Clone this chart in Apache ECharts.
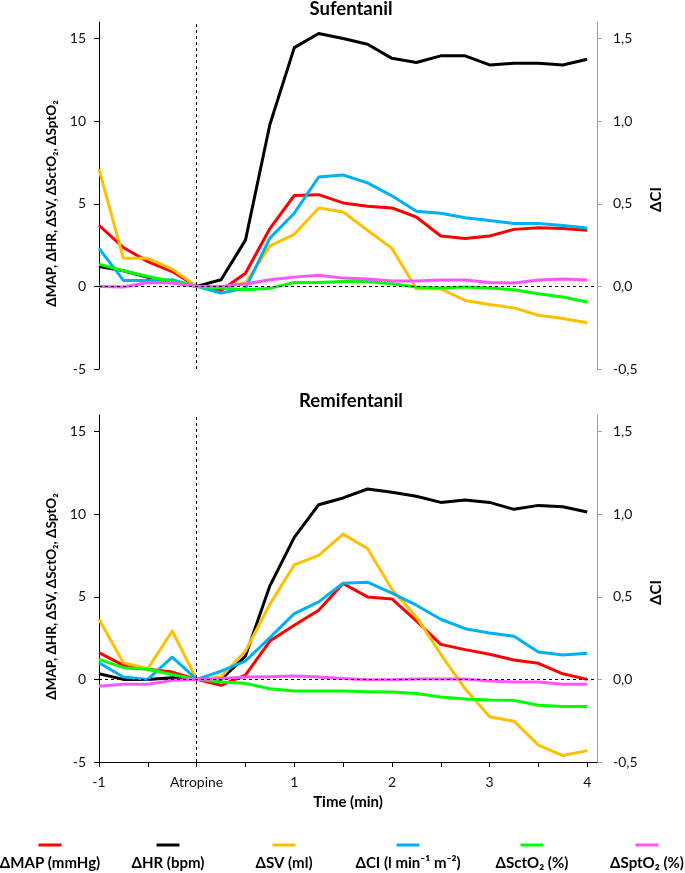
<!DOCTYPE html>
<html><head><meta charset="utf-8">
<script src="https://cdn.jsdelivr.net/npm/echarts@6/dist/echarts.min.js"></script>
<style>html,body{margin:0;padding:0;background:#fff}#c{width:685px;height:873px}</style>
</head><body><div id="c"></div>
<script>
const times = [-1,-0.75,-0.5,-0.25,0,0.25,0.5,0.75,1,1.25,1.5,1.75,2,2.25,2.5,2.75,3,3.25,3.5,3.75,4];
const xTickValues = [-1,-0.5,0,0.5,1,1.5,2,2.5,3,3.5,4];
const xLabelValues = [-1,0,1,2,3,4];
const yTickValues = [-5,0,5,10,15];
const ciTickValues = [-0.5,0,0.5,1,1.5];
const panelTitles = ['Sufentanil','Remifentanil'];
const seriesNames = ['ΔMAP (mmHg)','ΔHR (bpm)','ΔSV (ml)','ΔCI (l min⁻¹ m⁻²)','ΔSctO₂ (%)','ΔSptO₂ (%)'];
const seriesColors = ['#FF0000','#000000','#FFC000','#00B0F0','#00FF00','#FF55FF'];

const sufMAP = [3.7,2.35,1.5,0.9,0,-0.25,0.8,3.5,5.5,5.55,5.05,4.85,4.75,4.2,3.05,2.9,3.05,3.45,3.55,3.5,3.4];
const sufHR  = [1.2,0.95,0.55,0.25,0,0.4,2.8,9.8,14.45,15.3,15.0,14.65,13.8,13.55,13.95,13.95,13.4,13.5,13.5,13.4,13.75];
const sufSV  = [7.1,1.7,1.7,1.05,0,-0.05,0.2,2.45,3.15,4.75,4.5,3.4,2.3,-0.15,-0.15,-0.85,-1.1,-1.3,-1.75,-1.95,-2.2];
const sufCI  = [0.23,0.036,0.036,0.04,0,-0.04,-0.012,0.292,0.443,0.662,0.674,0.626,0.548,0.455,0.443,0.415,0.399,0.38,0.38,0.368,0.354];
const sufSct = [1.35,0.95,0.6,0.3,0,-0.1,-0.2,-0.12,0.24,0.24,0.3,0.3,0.16,-0.04,-0.1,-0.04,-0.1,-0.2,-0.44,-0.64,-0.95];
const sufSpt = [0,-0.04,0.24,0.2,0,0,0.14,0.4,0.56,0.68,0.5,0.44,0.32,0.32,0.38,0.38,0.24,0.2,0.38,0.44,0.38];

const remMAP = [1.62,0.85,0.61,0.44,0,-0.36,0.26,2.32,3.27,4.18,5.8,4.99,4.87,3.54,2.12,1.8,1.52,1.17,0.97,0.34,0];
const remHR  = [0.34,0,0,0.1,0,0,1.41,5.66,8.59,10.57,10.98,11.52,11.32,11.08,10.71,10.86,10.71,10.29,10.53,10.45,10.13];
const remSV  = [3.64,1.01,0.65,2.93,0,0.14,1.72,4.55,6.93,7.5,8.79,7.92,5.46,3.78,1.52,-0.57,-2.26,-2.53,-3.98,-4.61,-4.31];
const remCI  = [0.101,0.014,0,0.135,0,0.05,0.111,0.253,0.398,0.469,0.582,0.588,0.522,0.449,0.364,0.307,0.281,0.261,0.166,0.148,0.158];
const remSct = [1.21,0.71,0.61,0.3,0,-0.16,-0.24,-0.57,-0.71,-0.71,-0.71,-0.75,-0.77,-0.85,-1.07,-1.19,-1.25,-1.27,-1.56,-1.64,-1.64];
const remSpt = [-0.42,-0.3,-0.3,-0.06,0,0.06,0.14,0.16,0.2,0.14,0.06,-0.02,-0.02,0.02,0.02,0.02,-0.1,-0.16,-0.16,-0.3,-0.3];

const panels = [
  [sufMAP, sufHR, sufSV, sufCI, sufSct, sufSpt],
  [remMAP, remHR, remSV, remCI, remSct, remSpt]
];

const FONT = 'Lato, "Open Sans", sans-serif';
const gridTops = [22, 415];
const gridH = 347;

const grids = [], xAxes = [], yAxes = [], series = [];
panels.forEach((vals, p) => {
  grids.push({left: 99, right: 88, top: gridTops[p], height: gridH});
  xAxes.push({
    type: 'value', gridIndex: p, min: -1, max: 4.1, show: p === 1,
    splitLine: {show: false},
    axisLine: {onZero: false, lineStyle: {color: '#000', width: 1}},
    axisTick: {customValues: xTickValues, length: 5, lineStyle: {color: '#000'}},
    axisLabel: {customValues: xLabelValues, margin: 13, color: '#111', fontSize: 14, fontFamily: FONT,
      formatter: v => v === 0 ? 'Atropine' : String(v)},
    name: 'Time (min)', nameLocation: 'middle', nameGap: 33,
    nameTextStyle: {fontWeight: 'bold', fontSize: 15, color: '#000', fontFamily: FONT}
  });
  yAxes.push({
    type: 'value', gridIndex: p, min: -5, max: 16, interval: 5, position: 'left',
    splitLine: {show: false},
    axisLine: {show: true, onZero: false, lineStyle: {color: '#000', width: 1}},
    axisTick: {show: true, customValues: yTickValues, length: 5, lineStyle: {color: '#000'}},
    axisLabel: {customValues: yTickValues, margin: 13, color: '#111', fontSize: 14, fontFamily: FONT},
    name: 'ΔMAP, ΔHR, ΔSV, ΔSctO₂, ΔSptO₂', nameLocation: 'middle', nameRotate: 90, nameGap: 38,
    nameTextStyle: {fontWeight: 'bold', fontSize: 13.5, color: '#000', fontFamily: FONT, padding: [0, 16, 0, 0]}
  });
  yAxes.push({
    type: 'value', gridIndex: p, min: -0.5, max: 1.6, interval: 0.5, position: 'right',
    splitLine: {show: false},
    axisLine: {show: true, onZero: false, lineStyle: {color: '#A0A0A0', width: 1}},
    axisTick: {show: true, customValues: ciTickValues, length: 5, lineStyle: {color: '#A0A0A0'}},
    axisLabel: {customValues: ciTickValues, margin: 16, color: '#111', fontSize: 14, fontFamily: FONT,
      formatter: v => v.toFixed(1).replace('.', ',')},
    name: 'ΔCI', nameLocation: 'middle', nameRotate: 90, nameGap: 48,
    nameTextStyle: {fontWeight: 'bold', fontSize: 15, color: '#000', fontFamily: FONT, padding: [0, 8, 0, 0]}
  });
  vals.forEach((arr, i) => {
    const isCI = i === 3;
    const s = {
      name: seriesNames[i], type: 'line', xAxisIndex: p, yAxisIndex: p * 2 + (isCI ? 1 : 0),
      data: times.map((t, k) => [t, arr[k]]),
      showSymbol: false, symbol: 'none', silent: true, animation: false,
      lineStyle: {color: seriesColors[i], width: 3, join: 'round'},
      itemStyle: {color: seriesColors[i]}
    };
    if (i === 0) {
      s.markLine = {
        silent: true, symbol: 'none', animation: false, label: {show: false},
        lineStyle: {color: '#000', type: [3, 3], width: 1},
        data: [{xAxis: 0}, {yAxis: 0}]
      };
    }
    series.push(s);
  });
});

const legendCenters = [50, 168, 284, 408, 532, 647];
const legends = seriesNames.map((n, i) => ({
  data: [{name: n, icon: 'rect'}], left: legendCenters[i] - 11.5, top: 843.5,
  itemWidth: 23, itemHeight: 3, padding: 0, itemGap: 0,
  formatter: () => '', textStyle: {fontSize: 1}, selectedMode: false
}));

const graphics = seriesNames.map((n, i) => ({
  type: 'text', silent: true,
  style: {text: n, x: legendCenters[i], y: 863, align: 'center', verticalAlign: 'middle',
    font: 'bold 15px ' + FONT, fill: '#000'}
}));

const chart = echarts.init(document.getElementById('c'), null, {renderer: 'canvas'});
chart.setOption({
  animation: false,
  backgroundColor: '#fff',
  title: panelTitles.map((t, p) => ({
    text: t, left: 351, top: p === 0 ? 0 : 392, textAlign: 'center', padding: 0,
    textStyle: {fontWeight: 'bold', fontSize: 18.5, color: '#000', fontFamily: FONT}
  })),
  grid: grids, xAxis: xAxes, yAxis: yAxes, series: series,
  legend: legends, graphic: graphics
});
</script></body></html>
